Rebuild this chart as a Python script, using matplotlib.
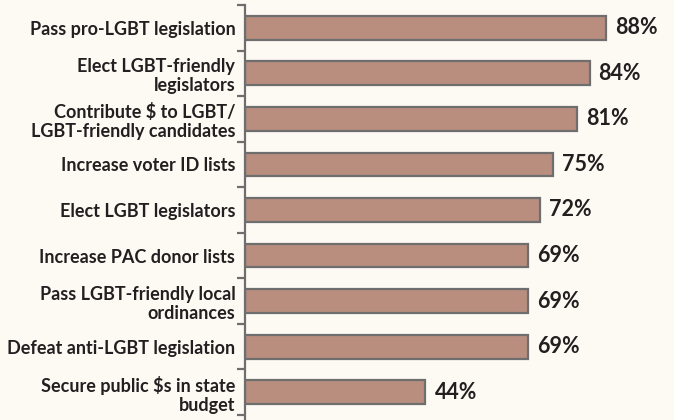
import numpy as np
import matplotlib.pyplot as plt

# data
labels = ['Pass pro-LGBT legislation',
          'Elect LGBT-friendly\nlegislators',
          'Contribute $ to LGBT/\nLGBT-friendly candidates',
          'Increase voter ID lists',
          'Elect LGBT legislators',
          'Increase PAC donor lists',
          'Pass LGBT-friendly local\nordinances',
          'Defeat anti-LGBT legislation',
          'Secure public $s in state\nbudget']
values = [88, 84, 81, 75, 72, 69, 69, 69, 44]

bg = '#fdf9f3'
plt.rcParams['font.family'] = ['Lato', 'DejaVu Sans']

fig = plt.figure(figsize=(6.74, 4.2), dpi=100, facecolor=bg)
ax = fig.add_axes([245 / 674, 0, 1 - 245 / 674, 1])
ax.set_facecolor(bg)

y = np.arange(len(values))
ax.barh(y, values, height=0.52, color='#b98e7f', edgecolor='#6e6e6e', linewidth=1.6)

for yi, v in zip(y, values):
    ax.text(v + 2.2, yi, f'{v}%', va='center', ha='left', fontsize=15.5,
            fontweight='bold', color='#231f20')

ax.set_xlim(0, 104.6)
step = 45.6
ax.set_ylim(8.5 + 5 / step, -0.5 - 5 / step)

for s in ['top', 'right', 'bottom']:
    ax.spines[s].set_visible(False)
ax.spines['left'].set_color('#6e6e6e')
ax.spines['left'].set_linewidth(1.6)
ax.spines['left'].set_bounds(-0.5, 8.5 + 5 / step)

ax.set_xticks([])
ax.set_yticks(y)
ax.set_yticklabels(labels, fontsize=13, fontweight='bold', color='#231f20',
                   linespacing=1.15)
ax.tick_params(axis='y', which='major', length=0, pad=7)
ax.set_yticks(np.arange(-0.5, 9.0, 1), minor=True)
ax.tick_params(axis='y', which='minor', length=6, width=1.6, color='#6e6e6e')

fig.savefig('out.png', dpi=100, facecolor=bg)
